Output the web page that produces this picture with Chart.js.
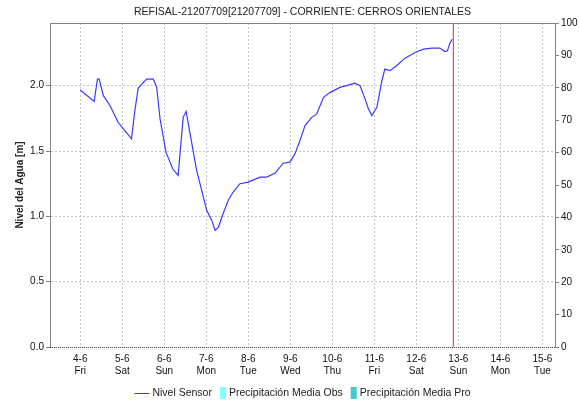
<!DOCTYPE html>
<html lang="es">
<head>
    <meta charset="UTF-8">
    <title>REFISAL-21207709 - Nivel del Agua</title>
    <script src="https://cdn.jsdelivr.net/npm/chart.js"></script>
    <style>
        body { margin: 0; background: #fff; }
    </style>
</head>
<body>
<canvas id="levelChart" width="579" height="403"></canvas>

<script>
    const chartTitle = 'REFISAL-21207709[21207709] - CORRIENTE: CERROS ORIENTALES';

    // days since 4-6 00:00
    const dayOffsets = [0.00, 0.33, 0.41, 0.45, 0.55, 0.71, 0.90, 1.09, 1.22, 1.30, 1.38, 1.58, 1.74, 1.82,
        1.90, 2.04, 2.20, 2.33, 2.45, 2.52, 2.63, 2.77, 2.95, 3.01, 3.13, 3.21, 3.29, 3.40, 3.52, 3.64,
        3.80, 4.00, 4.28, 4.44, 4.64, 4.83, 4.99, 5.11, 5.23, 5.35, 5.51, 5.63, 5.79, 5.95, 6.18, 6.38,
        6.54, 6.66, 6.75, 6.86, 6.94, 7.06, 7.18, 7.25, 7.37, 7.53, 7.73, 7.97, 8.17, 8.37, 8.56, 8.68,
        8.74, 8.79, 8.85];
    const levels = [1.967, 1.88, 2.05, 2.05, 1.924, 1.847, 1.72, 1.644, 1.593, 1.809, 1.982, 2.05, 2.05, 1.987,
        1.745, 1.491, 1.364, 1.313, 1.758, 1.804, 1.605, 1.351, 1.122, 1.046, 0.969, 0.893, 0.918, 1.02, 1.122, 1.186,
        1.25, 1.262, 1.30, 1.30, 1.331, 1.407, 1.415, 1.478, 1.58, 1.695, 1.758, 1.784, 1.911, 1.949, 1.987, 2.005,
        2.02, 2.0, 1.924, 1.822, 1.771, 1.834, 2.038, 2.127, 2.115, 2.153, 2.211, 2.254, 2.28, 2.288, 2.288, 2.262,
        2.267, 2.318, 2.356];

    const precipObs = [];
    const precipPro = [];

    const tickDates = ['4-6', '5-6', '6-6', '7-6', '8-6', '9-6', '10-6', '11-6', '12-6', '13-6', '14-6', '15-6'];
    const tickDays = ['Fri', 'Sat', 'Sun', 'Mon', 'Tue', 'Wed', 'Thu', 'Fri', 'Sat', 'Sun', 'Mon', 'Tue'];

    const nowDay = 8.88; // red "now" marker

    const FONT = 'Liberation Sans, Arial, sans-serif';

    // title + legend centred over the plot area, top border and dotted bottom axis
    const decorations = {
        id: 'decorations',
        afterDraw(chart) {
            const ctx = chart.ctx;
            const area = chart.chartArea;
            const mid = (area.left + area.right) / 2;
            ctx.save();

            ctx.strokeStyle = '#808080';
            ctx.lineWidth = 1;
            ctx.beginPath();
            ctx.moveTo(area.left, area.top + 0.5);
            ctx.lineTo(area.right, area.top + 0.5);
            ctx.stroke();

            ctx.strokeStyle = '#444';
            ctx.setLineDash([1, 1]);
            ctx.beginPath();
            ctx.moveTo(area.left, Math.round(area.bottom) + 0.5);
            ctx.lineTo(area.right, Math.round(area.bottom) + 0.5);
            ctx.stroke();
            ctx.setLineDash([]);

            ctx.fillStyle = '#222';
            ctx.font = '10.5px ' + FONT;
            ctx.textAlign = 'center';
            ctx.textBaseline = 'middle';
            ctx.fillText(chartTitle, mid, 12);

            // legend
            const items = chart.data.datasets.filter(d => d.inLegend);
            let total = 0;
            items.forEach((d, i) => {
                d._w = (i === 0 ? 18 : 9) + ctx.measureText(d.label).width;
                total += d._w + (i ? 8 : 0);
            });
            let x = mid - total / 2;
            const y = 393;
            ctx.textAlign = 'left';
            items.forEach((d, i) => {
                if (i === 0) {
                    ctx.strokeStyle = d.borderColor;
                    ctx.beginPath();
                    ctx.moveTo(x, y + 0.5);
                    ctx.lineTo(x + 15, y + 0.5);
                    ctx.stroke();
                    ctx.fillStyle = '#222';
                    ctx.fillText(d.label, x + 18, y);
                } else {
                    ctx.fillStyle = d.backgroundColor;
                    ctx.fillRect(x, y - 6, 6, 12);
                    ctx.fillStyle = '#222';
                    ctx.fillText(d.label, x + 9, y);
                }
                x += d._w + 8;
            });
            ctx.restore();
        }
    };

    new Chart(document.getElementById('levelChart'), {
        type: 'line',
        data: {
            datasets: [
                {
                    label: 'Nivel Sensor',
                    inLegend: true,
                    data: dayOffsets.map((d, i) => ({ x: d, y: levels[i] })),
                    borderColor: '#3a3aff',
                    borderWidth: 1.2,
                    pointRadius: 0,
                    tension: 0,
                    yAxisID: 'y'
                },
                {
                    type: 'bar',
                    label: 'Precipitación Media Obs',
                    inLegend: true,
                    data: precipObs,
                    backgroundColor: '#80ffff',
                    yAxisID: 'y2'
                },
                {
                    type: 'bar',
                    label: 'Precipitación Media Pro',
                    inLegend: true,
                    data: precipPro,
                    backgroundColor: '#40cccc',
                    yAxisID: 'y2'
                },
                {
                    label: 'now',
                    data: [{ x: nowDay, y: 0 }, { x: nowDay, y: 100 }],
                    borderColor: '#ee2222',
                    borderWidth: 1,
                    pointRadius: 0,
                    yAxisID: 'y2'
                }
            ]
        },
        options: {
            responsive: false,
            animation: false,
            layout: { padding: { top: 23, right: 0, left: 14, bottom: 0 } },
            plugins: {
                legend: { display: false },
                title: { display: false },
                tooltip: { enabled: false }
            },
            scales: {
                x: {
                    type: 'linear',
                    offset: false,
                    min: -0.72,
                    max: 11.3,
                    afterBuildTicks: s => { s.ticks = tickDates.map((_, i) => ({ value: i })); },
                    afterFit: s => { s.height = 56; },
                    grid: { offset: false, color: '#c4c4c4', drawTicks: false },
                    border: { display: false, dash: [2, 2] },
                    ticks: {
                        padding: 6,
                        color: '#111',
                        font: { family: FONT, size: 10 },
                        maxRotation: 0,
                        callback: (v, i) => [tickDates[i], tickDays[i]]
                    }
                },
                y: {
                    position: 'left',
                    min: 0,
                    max: 2.48,
                    afterBuildTicks: s => {
                        s.ticks = s.ticks.filter(t => Math.abs(t.value * 2 - Math.round(t.value * 2)) < 1e-6);
                    },
                    afterFit: s => { s.width = 36; },
                    grid: { color: '#c4c4c4', tickColor: '#808080', tickLength: 4 },
                    border: { color: '#808080', dash: [2, 2] },
                    title: {
                        display: true,
                        text: 'Nivel del Agua [m]',
                        color: '#222',
                        font: { family: FONT, size: 10, weight: 'bold' },
                        padding: 0
                    },
                    ticks: {
                        stepSize: 0.5,
                        padding: 2,
                        color: '#111',
                        font: { family: FONT, size: 10 },
                        callback: v => v.toFixed(1)
                    }
                },
                y2: {
                    position: 'right',
                    min: 0,
                    max: 100,
                    afterFit: s => { s.width = 24; },
                    grid: { drawOnChartArea: false, tickColor: '#808080', tickLength: 4 },
                    border: { color: '#808080' },
                    ticks: {
                        stepSize: 10,
                        padding: 2,
                        color: '#111',
                        font: { family: FONT, size: 10 }
                    }
                }
            }
        },
        plugins: [decorations]
    });
</script>
</body>
</html>
